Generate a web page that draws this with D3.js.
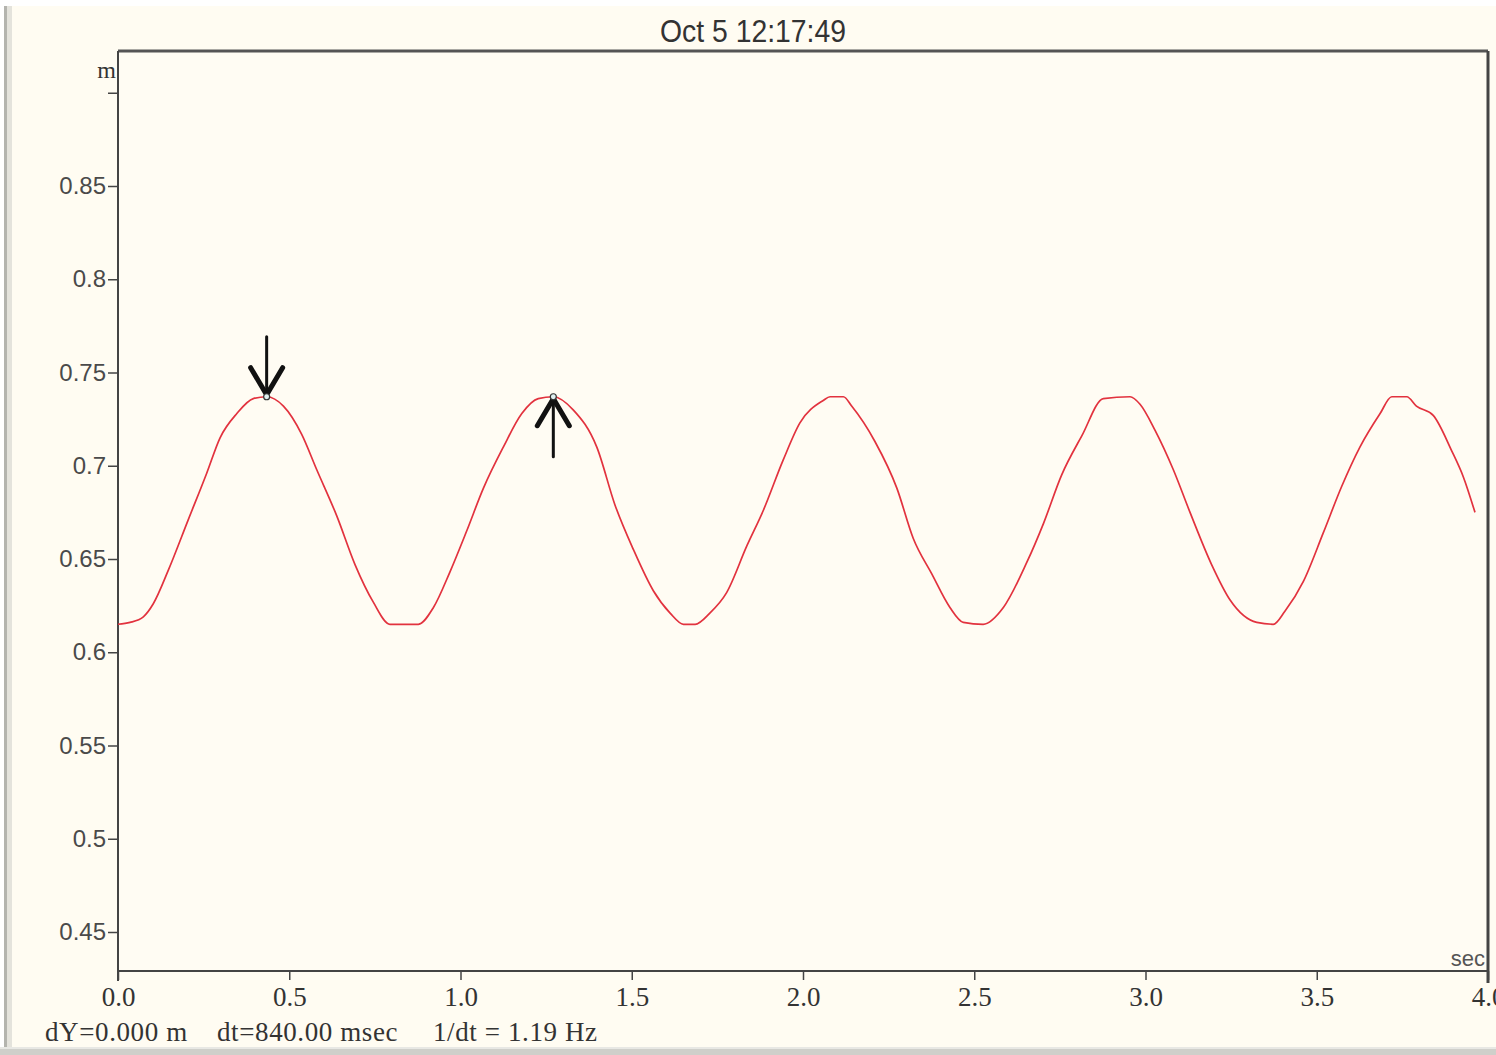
<!DOCTYPE html>
<html>
<head>
<meta charset="utf-8">
<script src="https://cdn.jsdelivr.net/npm/d3@7"></script>
<style>
  html, body { margin: 0; padding: 0; background: #fffcf2; }
  svg { display: block; }
</style>
</head>
<body>
<div id="chart"></div>
<script>
// trace: time (sec) and level (m)
const times = [0.00, 0.035, 0.074, 0.103, 0.147, 0.205, 0.259, 0.298, 0.347, 0.395, 0.434,
  0.483, 0.536, 0.580, 0.639, 0.692, 0.745, 0.794, 0.877, 0.921, 0.969, 1.018, 1.067,
  1.125, 1.179, 1.227, 1.271, 1.329, 1.398, 1.451, 1.505, 1.563, 1.612, 1.651, 1.685,
  1.728, 1.777, 1.836, 1.884, 1.942, 1.991, 2.059, 2.079, 2.118, 2.142, 2.210, 2.274,
  2.322, 2.376, 2.429, 2.468, 2.526, 2.585, 2.653, 2.702, 2.755, 2.814, 2.877, 2.955,
  2.984, 3.028, 3.081, 3.130, 3.193, 3.247, 3.325, 3.373, 3.407, 3.461, 3.519, 3.573,
  3.626, 3.685, 3.719, 3.763, 3.791, 3.840, 3.894, 3.928, 3.962];
const levels = [0.615, 0.616, 0.619, 0.626, 0.644, 0.671, 0.696, 0.715, 0.728, 0.736, 0.737,
  0.732, 0.717, 0.698, 0.673, 0.647, 0.627, 0.615, 0.615, 0.624, 0.643, 0.665, 0.688,
  0.710, 0.728, 0.736, 0.737, 0.730, 0.710, 0.679, 0.655, 0.633, 0.621, 0.615, 0.615,
  0.621, 0.632, 0.657, 0.676, 0.703, 0.723, 0.735, 0.737, 0.737, 0.732, 0.713, 0.688,
  0.661, 0.642, 0.624, 0.616, 0.615, 0.624, 0.648, 0.669, 0.695, 0.716, 0.736, 0.737,
  0.733, 0.719, 0.698, 0.675, 0.647, 0.628, 0.616, 0.615, 0.622, 0.638, 0.664, 0.689,
  0.710, 0.728, 0.737, 0.737, 0.732, 0.727, 0.708, 0.694, 0.675];

const yTicks = [0.45, 0.5, 0.55, 0.6, 0.65, 0.7, 0.75, 0.8, 0.85, 0.9];
const yTickLabels = ["0.45", "0.5", "0.55", "0.6", "0.65", "0.7", "0.75", "0.8", "0.85", ""];
const xTicks = [0, 0.5, 1, 1.5, 2, 2.5, 3, 3.5, 4];
const xTickLabels = ["0.0", "0.5", "1.0", "1.5", "2.0", "2.5", "3.0", "3.5", "4.0"];

// two cursors (down / up arrow) on the peaks
const cursorTimes = [0.434, 1.271];
const cursorLevel = 0.737;

const title = "Oct 5 12:17:49";
const readout = ["dY=0.000 m", "dt=840.00 msec", "1/dt = 1.19 Hz"];

const W = 1496, H = 1055;
const plotLeft = 118, plotRight = 1488, plotTop = 51, plotBottom = 971;

const svg = d3.select("#chart").append("svg")
  .attr("width", W).attr("height", H);

// window background and frame
svg.append("rect").attr("width", W).attr("height", H).attr("fill", "#fffcf2");
svg.append("rect").attr("x", 0).attr("y", 0).attr("width", W).attr("height", 6).attr("fill", "#ffffff");
svg.append("rect").attr("x", 0).attr("y", 0).attr("width", 4).attr("height", H).attr("fill", "#ffffff");
svg.append("rect").attr("x", 4).attr("y", 6).attr("width", 3).attr("height", H).attr("fill", "#b4b4ae");
svg.append("rect").attr("x", 7).attr("y", 6).attr("width", 5).attr("height", H).attr("fill", "#e4e3dc");
svg.append("rect").attr("x", 0).attr("y", 1047).attr("width", W).attr("height", 8).attr("fill", "#cfcfca");
svg.append("rect").attr("x", 0).attr("y", 1047).attr("width", W).attr("height", 2).attr("fill", "#e8e8e4");

const x = d3.scaleLinear().domain([0, 4]).range([plotLeft, plotRight]);
const y = d3.scaleLinear().domain([0.45, 0.85]).range([932, 186]);

// title (narrow face)
svg.append("text")
  .attr("x", 660).attr("y", 42)
  .attr("font-family", "'Liberation Sans', sans-serif")
  .attr("font-size", 32)
  .attr("textLength", 186)
  .attr("lengthAdjust", "spacingAndGlyphs")
  .attr("fill", "#333")
  .text(title);

// plot area
svg.append("rect")
  .attr("x", plotLeft).attr("y", plotTop)
  .attr("width", plotRight - plotLeft).attr("height", plotBottom - plotTop)
  .attr("fill", "#fffcf3");

svg.append("clipPath").attr("id", "clip")
  .append("rect")
  .attr("x", plotLeft).attr("y", plotTop)
  .attr("width", plotRight - plotLeft).attr("height", plotBottom - plotTop);

// Y axis
const yAxis = svg.append("g")
  .attr("transform", `translate(${plotLeft},0)`)
  .call(d3.axisLeft(y)
    .tickValues(yTicks)
    .tickSize(10)
    .tickPadding(2)
    .tickFormat((d, i) => yTickLabels[i]));
yAxis.select(".domain").remove();
yAxis.selectAll("line").attr("stroke", "#444").attr("stroke-width", 1.5);
yAxis.selectAll("text")
  .attr("font-family", "'Liberation Sans', sans-serif")
  .attr("font-size", 24)
  .attr("fill", "#4a4a4a");

// X axis
const xAxis = svg.append("g")
  .attr("transform", `translate(0,${plotBottom})`)
  .call(d3.axisBottom(x)
    .tickValues(xTicks)
    .tickSize(9)
    .tickPadding(7)
    .tickFormat((d, i) => xTickLabels[i]));
xAxis.select(".domain").remove();
xAxis.selectAll("line").attr("stroke", "#444").attr("stroke-width", 1.5);
xAxis.selectAll("text")
  .attr("font-family", "'Liberation Serif', serif")
  .attr("font-size", 27)
  .attr("fill", "#333");

// frame
svg.append("line").attr("x1", plotLeft).attr("x2", plotRight).attr("y1", plotTop).attr("y2", plotTop)
  .attr("stroke", "#555").attr("stroke-width", 3);
svg.append("line").attr("x1", plotRight).attr("x2", plotRight).attr("y1", plotTop).attr("y2", plotBottom + 12)
  .attr("stroke", "#444").attr("stroke-width", 3);
svg.append("line").attr("x1", plotLeft).attr("x2", plotLeft).attr("y1", plotTop).attr("y2", plotBottom + 10)
  .attr("stroke", "#444").attr("stroke-width", 2);
svg.append("line").attr("x1", plotLeft).attr("x2", plotRight).attr("y1", plotBottom).attr("y2", plotBottom)
  .attr("stroke", "#444").attr("stroke-width", 2);

// unit labels
svg.append("text")
  .attr("x", 116).attr("y", 78)
  .attr("text-anchor", "end")
  .attr("font-family", "'Liberation Serif', serif")
  .attr("font-size", 24)
  .attr("fill", "#333")
  .text("m");
svg.append("text")
  .attr("x", plotRight - 3).attr("y", 966)
  .attr("text-anchor", "end")
  .attr("font-family", "'Liberation Sans', sans-serif")
  .attr("font-size", 22)
  .attr("fill", "#555")
  .text("sec");

// trace
const data = times.map((t, i) => ({ t, v: levels[i] }));
const line = d3.line()
  .x(d => x(d.t))
  .y(d => y(d.v))
  .curve(d3.curveMonotoneX);

svg.append("path")
  .datum(data)
  .attr("clip-path", "url(#clip)")
  .attr("fill", "none")
  .attr("stroke", "#e2323e")
  .attr("stroke-width", 1.7)
  .attr("d", line);

// cursors
cursorTimes.forEach((t, i) => {
  const cx = x(t), cy = y(cursorLevel);
  const g = svg.append("g").attr("stroke", "#111").attr("fill", "none").attr("stroke-linecap", "round");
  if (i === 0) {
    g.append("line").attr("x1", cx).attr("x2", cx).attr("y1", cy - 60).attr("y2", cy - 2).attr("stroke-width", 3);
    g.append("path").attr("d", `M${cx - 16},${cy - 29}L${cx},${cy - 2}L${cx + 16},${cy - 29}`).attr("stroke-width", 5);
  } else {
    g.append("line").attr("x1", cx).attr("x2", cx).attr("y1", cy + 60).attr("y2", cy + 2).attr("stroke-width", 3);
    g.append("path").attr("d", `M${cx - 16},${cy + 29}L${cx},${cy + 2}L${cx + 16},${cy + 29}`).attr("stroke-width", 5);
  }
  svg.append("circle").attr("cx", cx).attr("cy", cy).attr("r", 3)
    .attr("fill", "#dff0f0").attr("stroke", "#333").attr("stroke-width", 1.2);
});

// readout line
const readoutX = [45, 217, 433];
readout.forEach((s, i) => {
  svg.append("text")
    .attr("x", readoutX[i]).attr("y", 1041)
    .attr("font-family", "'Liberation Serif', serif")
    .attr("font-size", 27)
    .attr("letter-spacing", 0.6)
    .attr("fill", "#333")
    .text(s);
});
</script>
</body>
</html>
